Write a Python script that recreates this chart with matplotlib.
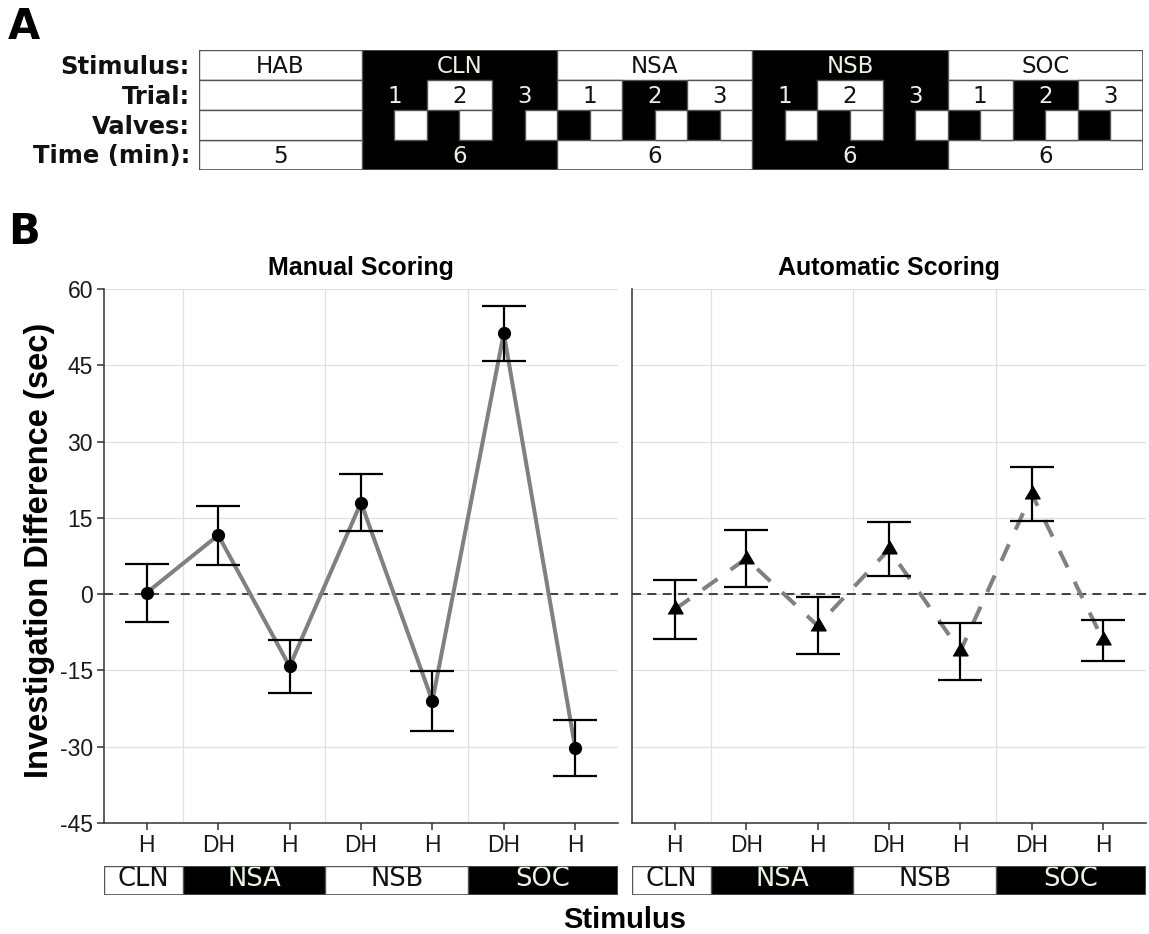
import numpy as np
import matplotlib
matplotlib.use("Agg")
import matplotlib.pyplot as plt
from matplotlib.patches import Rectangle

# ---- panel A : protocol table ----
stimuli = ["HAB", "CLN", "NSA", "NSB", "SOC"]
durations = [5, 6, 6, 6, 6]          # minutes
block_dark = [False, True, False, True, False]
trial_labels = ["1", "2", "3"]
row_labels = ["Stimulus:", "Trial:", "Valves:", "Time (min):"]

# ---- panel B : investigation difference (sec), mean and s.e. ----
x_labels = ["H", "DH", "H", "DH", "H", "DH", "H"]
manual_mean = [0.3, 11.6, -14.2, 18.0, -21.0, 51.3, -30.2]
manual_se = [5.7, 5.8, 5.2, 5.6, 5.9, 5.4, 5.5]
auto_mean = [-3.0, 7.0, -6.2, 8.8, -11.2, 19.7, -9.1]
auto_se = [5.8, 5.6, 5.6, 5.3, 5.6, 5.3, 4.1]
bar_stimuli = ["CLN", "NSA", "NSB", "SOC"]
bar_edges = [0.4, 1.5, 3.5, 5.5, 7.6]
bar_dark = [False, True, False, True]
yticks = [-45, -30, -15, 0, 15, 30, 45, 60]

W, H = 1149, 934
fig = plt.figure(figsize=(W / 100, H / 100), dpi=100)
light = "#e8f3e2"
edge = "#555555"
sans = ["Liberation Sans", "DejaVu Sans"]
verd = ["DejaVu Sans"]


def px_axes(x0, y0, x1, y1):
    return fig.add_axes([x0 / W, 1 - y1 / H, (x1 - x0) / W, (y1 - y0) / H])


def cell(ax, x0, x1, y0, y1, dark, text=None, size=16.5):
    ax.add_patch(Rectangle((x0, y0), x1 - x0, y1 - y0,
                           facecolor="black" if dark else "white",
                           edgecolor="black" if dark else edge, lw=1.0,
                           zorder=1 if dark else 2))
    if text is not None:
        ax.text((x0 + x1) / 2, (y0 + y1) / 2 + 0.04, text, ha="center", va="center",
                color=light if dark else "#111111", fontsize=size,
                family=verd, zorder=3)


# panel A
axA = px_axes(199, 50, 1143, 170)
total = sum(durations)
axA.set_xlim(0, total)
axA.set_ylim(4, 0)
axA.axis("off")
start = 0
for name, dur, dark in zip(stimuli, durations, block_dark):
    cell(axA, start, start + dur, 0, 1, dark, name)
    cell(axA, start, start + dur, 3, 4, dark, str(dur))
    if name == "HAB":
        cell(axA, start, start + dur, 1, 2, False)
        cell(axA, start, start + dur, 2, 3, False)
    else:
        for k, t in enumerate(trial_labels):
            t0 = start + 2 * k
            tdark = dark if k != 1 else not dark
            cell(axA, t0, t0 + 2, 1, 2, tdark, t)
            cell(axA, t0, t0 + 1, 2, 3, True)
            cell(axA, t0 + 1, t0 + 2, 2, 3, False)
    start += dur
axA.add_patch(Rectangle((0, 0), total, 4, fill=False, edgecolor=edge, lw=1.2, zorder=4))
for r, lab in enumerate(row_labels):
    axA.text(-0.28, r + 0.55, lab, ha="right", va="center", fontsize=17.5,
             fontweight="bold", family=verd, color="#111111")

fig.text(8 / W, 1 - 27 / H, "A", fontsize=30, fontweight="heavy", family=verd,
         va="center", ha="left")
fig.text(8 / W, 1 - 232 / H, "B", fontsize=30, fontweight="heavy", family=verd,
         va="center", ha="left")

# panel B
x = np.arange(1, len(x_labels) + 1)
tri = [(-1, -0.577), (1, -0.577), (0, 1.155)]
panels = [
    (px_axes(104, 289, 618, 823), "Manual Scoring", manual_mean, manual_se, "o", 8.5, "-"),
    (px_axes(632, 289, 1146, 823), "Automatic Scoring", auto_mean, auto_se, tri, 12.5, "--"),
]
for i, (ax, title, m, se, mk, ms, ls) in enumerate(panels):
    ax.set_xlim(0.4, 7.6)
    ax.set_ylim(-45, 60)
    for g in [1.5, 3.5, 5.5]:
        ax.axvline(g, color="#e0e0e0", lw=0.9, zorder=0)
    for g in yticks:
        ax.axhline(g, color="#e0e0e0", lw=0.9, zorder=0)
    ax.axhline(0, color="#333333", lw=1.3, dashes=(5, 3.5), zorder=1)
    line, = ax.plot(x, m, color="#808080", lw=2.9, zorder=2)
    if ls == "--":
        line.set_dashes((4.5, 4))
    ax.errorbar(x, m, yerr=se, fmt="none", ecolor="black", elinewidth=1.6,
                capsize=15.5, capthick=1.6, zorder=3)
    ax.plot(x, m, linestyle="none", marker=mk, markersize=ms, color="black", zorder=4)
    for s in ["top", "right"]:
        ax.spines[s].set_visible(False)
    for s in ["left", "bottom"]:
        ax.spines[s].set_color("#333333")
        ax.spines[s].set_linewidth(1.1)
    ax.set_xticks(x)
    ax.set_xticklabels(x_labels, family=sans, fontsize=16.5, color="#1a1a1a")
    ax.set_yticks(yticks)
    ax.tick_params(axis="both", color="#333333", width=1.1, length=5, pad=3)
    if i == 0:
        ax.set_yticklabels([str(v) for v in yticks], family=sans, fontsize=16.5,
                           color="#1a1a1a")
    else:
        ax.set_yticklabels([])
        ax.tick_params(axis="y", length=0)
    ax.text(0.5, 1.039, title, transform=ax.transAxes, ha="center", va="center",
            fontsize=18, fontweight="bold", family=sans)

    # stimulus bar under the panel
    x0 = 104 if i == 0 else 632
    bx = px_axes(x0, 866, x0 + 514, 895)
    bx.set_xlim(0.4, 7.6)
    bx.set_ylim(0, 1)
    bx.axis("off")
    for k, name in enumerate(bar_stimuli):
        cell(bx, bar_edges[k], bar_edges[k + 1], 0, 1, bar_dark[k], name, size=18.5)
    bx.add_patch(Rectangle((0.4, 0), 7.2, 1, fill=False, edgecolor=edge, lw=1.2, zorder=4))

fig.text(40 / W, 1 - 550 / H, "Investigation Difference (sec)", rotation=90,
         ha="center", va="center", fontsize=23.5, fontweight="bold", family=sans)
fig.text(625 / W, 1 - 920 / H, "Stimulus", ha="center", va="center",
         fontsize=21, fontweight="bold", family=sans)

fig.savefig("out.png", dpi=100, facecolor="white")
